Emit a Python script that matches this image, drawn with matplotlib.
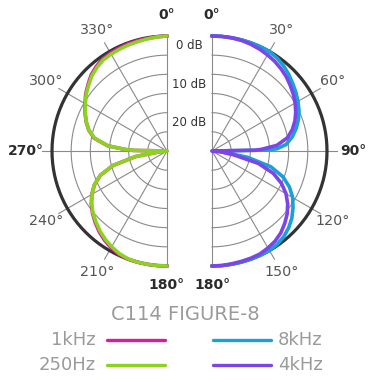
import numpy as np
import matplotlib
matplotlib.use("Agg")
import matplotlib.pyplot as plt
from matplotlib.lines import Line2D

# ---------------- data (dB, angle measured from front 0..180) ----------------
angles = [0, 5, 10, 15, 20, 25, 30, 35, 40, 45, 50, 55, 60, 65, 70, 75, 80, 85, 88, 89,
          90, 95, 100, 105, 110, 115, 120, 125, 130, 135, 140, 145, 150, 155, 160, 165,
          170, 175, 180]

db_1khz = [0, -0.1, -0.2, -0.2, -0.27, -0.4, -0.5, -0.7, -1.25, -2.0, -3.1, -4.1, -5.3,
           -6.4, -7.55, -8.85, -10.7, -14.5, -19.2, -21.3,
           -30, -28.4, -21.7, -15.4, -11.5, -9.1, -7.35, -5.9, -4.65, -3.55, -2.5, -1.6,
           -0.85, -0.25, 0, 0, 0, 0, 0]
db_250hz = [0, -0.13, -0.31, -0.47, -0.57, -0.7, -0.83, -1.0, -1.55, -2.27, -3.3, -4.25,
            -5.4, -6.45, -7.6, -8.9, -10.8, -14.6, -19.3, -21.4,
            -30, -28.4, -21.7, -15.4, -11.5, -9.1, -7.4, -6.0, -4.8, -3.8, -2.8, -1.9,
            -1.15, -0.5, -0.1, 0, 0, 0, 0]
db_8khz = [0, 0, 0, 0, 0, 0, -0.05, -0.4, -0.97, -1.7, -2.53, -3.3, -4.1, -4.96, -6.0,
           -7.25, -8.74, -10.6, -13.0, -15.7,
           -30, -27.4, -20.6, -14.1, -10.3, -7.7, -5.7, -4.2, -2.8, -1.7, -0.86, -0.3,
           -0.05, 0, 0, 0, 0, 0, 0]
db_4khz = [0, 0, -0.05, -0.15, -0.37, -0.68, -1.05, -1.46, -2.0, -2.6, -3.37, -4.12,
           -4.96, -5.9, -6.97, -8.3, -10.0, -13.0, -17.0, -18.8,
           -30, -27.9, -24.3, -17.5, -13.0, -10.0, -7.7, -5.9, -4.4, -3.2, -2.1, -1.3,
           -0.8, -0.37, -0.26, -0.2, -0.13, 0, 0]

grid_db = [-25, -20, -15, -10, -5]
spoke_angles = [0, 30, 60, 90, 120, 150, 180]
right_labels = ["0°", "30°", "60°", "90°", "120°", "150°", "180°"]
left_labels = ["0°", "330°", "300°", "270°", "240°", "210°", "180°"]
db_labels = ["0 dB", "10 dB", "20 dB"]
db_label_levels = [0, -10, -20]

title = "C114 FIGURE-8"
series_names = ["1kHz", "250Hz", "8kHz", "4kHz"]
c_1k = "#DD1A9C"
c_250 = "#8CD321"
c_8k = "#1AA0D8"
c_4k = "#7D45E8"

# ---------------- layout ----------------
W, H = 370, 382
RMIN, RMAX = -30.0, 8.0
R0 = 115.0                      # pixel radius of 0 dB ring
RAX = R0 * (RMAX - RMIN) / (0 - RMIN)

fig = plt.figure(figsize=(W / 100, H / 100), dpi=100)
fig.patch.set_facecolor("white")


def make_half(cx, cy, sign):
    ax = fig.add_axes([(cx - RAX) / W, (H - cy - RAX) / H, 2 * RAX / W, 2 * RAX / H],
                      projection="polar")
    ax.set_theta_zero_location("N")
    ax.set_theta_direction(-1)
    ax.set_ylim(RMIN, RMAX)
    ax.axis("off")
    ax.patch.set_alpha(0)

    def th(a):
        a = np.asarray(a, dtype=float)
        return np.deg2rad(a if sign > 0 else 360 - a)

    arc = np.linspace(0, 180, 181)
    for g in grid_db:
        ax.plot(th(arc), np.full_like(arc, g), color="#8a8a8a", lw=0.8, zorder=1)
    for s in spoke_angles:
        top = 0 if s in (0, 180) else 2.6
        ax.plot([th(s), th(s)], [RMIN, top], color="#8a8a8a", lw=0.8, zorder=1)
    ax.plot(th(arc), np.zeros_like(arc), color="#333333", lw=2.3, zorder=2)
    return ax, th


axL, thL = make_half(167, 151, -1)
axR, thR = make_half(212, 151, 1)

# curves
for ax, th, series in ((axL, thL, [(db_1khz, c_1k), (db_250hz, c_250)]),
                       (axR, thR, [(db_8khz, c_8k), (db_4khz, c_4k)])):
    for vals, col in series:
        ax.plot(th(angles), np.clip(vals, RMIN, 0), color=col, lw=2.6,
                solid_capstyle="round", solid_joinstyle="round", zorder=3)

# angle labels
def label_r(a):
    if a == 0:
        return 5.5
    if a == 180:
        return 5.0
    if a == 90:
        return 6.8
    return 6.3

for ax, th, labels in ((axR, thR, right_labels), (axL, thL, left_labels)):
    for a, lab in zip(spoke_angles, labels):
        major = a in (0, 90, 180)
        ax.text(th(a), label_r(a), lab, ha="center", va="center",
                fontsize=10 if major else 10.3,
                fontweight="bold" if major else "normal",
                color="#2b2b2b" if major else "#555555", zorder=5)

# dB labels in the gap between the halves
for lab, lev in zip(db_labels, db_label_levels):
    axL.annotate(lab, xy=(0, lev - 2.6), xytext=(22.5, 0), textcoords="offset pixels",
                 ha="center", va="center", fontsize=8.5, color="#333333",
                 fontweight="normal", annotation_clip=False)

# title and legend
fig.text(185 / W, 1 - 315 / H, title, ha="center", va="center",
         fontsize=14, color="#9a9a9a")

rows = [340, 365]
leg = [(series_names[0], c_1k, "L", rows[0]), (series_names[1], c_250, "L", rows[1]),
       (series_names[2], c_8k, "R", rows[0]), (series_names[3], c_4k, "R", rows[1])]
for name, col, side, yy in leg:
    yf = 1 - yy / H
    if side == "L":
        fig.text(96 / W, yf, name, ha="right", va="center", fontsize=13, color="#9a9a9a")
        xs = [107 / W, 165 / W]
    else:
        fig.text(278 / W, yf, name, ha="left", va="center", fontsize=13, color="#9a9a9a")
        xs = [213 / W, 271 / W]
    fig.add_artist(Line2D(xs, [yf, yf], transform=fig.transFigure, color=col,
                          lw=2.4, solid_capstyle="round"))

fig.savefig("out.png", dpi=100)
